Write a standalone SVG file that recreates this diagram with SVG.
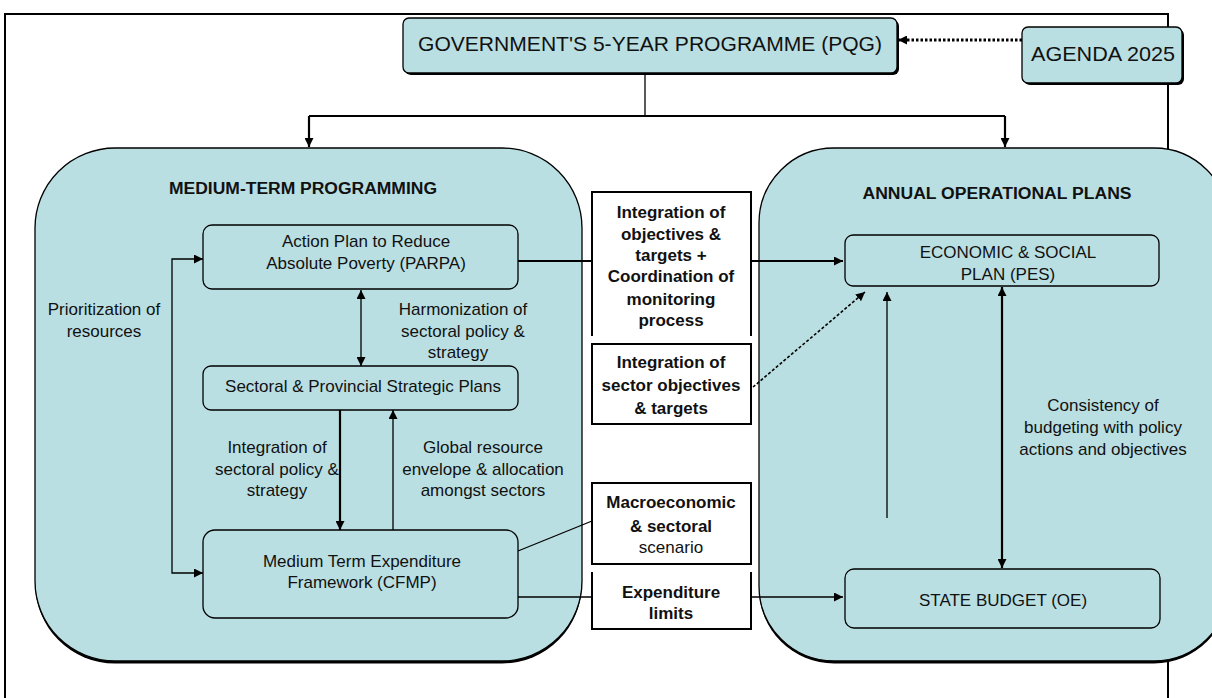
<svg xmlns="http://www.w3.org/2000/svg" width="1212" height="698" viewBox="0 0 1212 698">
<style>
.t{font-family:"Liberation Sans",Arial,sans-serif;fill:#111;text-anchor:middle}
.n{font-size:17px}
.b{font-weight:bold}
.h{font-size:16px;font-weight:bold}
.box{fill:#badfe2;stroke:#000;stroke-width:1.3}
.sh{fill:#000}
.mid{fill:#fff;stroke:none}
.edge{fill:none;stroke:#000;stroke-width:2}
.ln{fill:none;stroke:#000;stroke-width:1.3}
.thk{stroke-width:2.2}
.dot{stroke-dasharray:3 2;stroke-width:1.6}
.dotthk{stroke-width:3;stroke-dasharray:2.5 2}
</style>
<defs>
<marker id="ah" viewBox="0 0 10 10" refX="10" refY="5" markerWidth="9" markerHeight="9" markerUnits="userSpaceOnUse" orient="auto-start-reverse"><path d="M0,0 L10,5 L0,10 z" fill="#000"/></marker>
</defs>
<rect width="1212" height="698" fill="#fff"/>
<path d="M5,700 V14 H1168 V700" fill="none" stroke="#000" stroke-width="2"/>

<g id="medium-term">
<rect class="sh" x="35" y="150.5" width="547" height="513" rx="80"/>
<rect class="box" x="35" y="148" width="547" height="513" rx="80"/>
<text class="t h" x="303" y="194" textLength="268" lengthAdjust="spacingAndGlyphs">MEDIUM-TERM PROGRAMMING</text>
</g>
<g id="annual">
<rect class="sh" x="759" y="150.5" width="470" height="513" rx="75"/>
<rect class="box" x="759" y="148" width="470" height="513" rx="75"/>
<text class="t h" x="997" y="199" textLength="269" lengthAdjust="spacingAndGlyphs">ANNUAL OPERATIONAL PLANS</text>
</g>

<g id="connectors">
<path class="ln" d="M645,73 V116"/>
<path class="ln thk" d="M309,116 H1005"/>
<path class="ln thk" d="M309,116 V147" marker-end="url(#ah)"/>
<path class="ln thk" d="M1005,116 V147" marker-end="url(#ah)"/>
<path class="ln dotthk" d="M1022,40 H898" marker-end="url(#ah)"/>
<path class="ln" d="M361,290 V366" marker-start="url(#ah)" marker-end="url(#ah)"/>
<path class="ln thk" d="M340,410 V530" marker-end="url(#ah)"/>
<path class="ln" d="M393,530 V410" marker-end="url(#ah)"/>
<path class="ln" d="M203,259 H172 V573 H203" marker-start="url(#ah)" marker-end="url(#ah)"/>
<path class="ln thk" d="M518,261 H843" marker-end="url(#ah)"/>
<path class="ln dot" d="M753,387 L865,292" marker-end="url(#ah)"/>
<path class="ln" d="M518,551 L592,521"/>
<path class="ln" d="M518,597 H843" marker-end="url(#ah)"/>
<path class="ln" d="M887,518 V292" marker-end="url(#ah)"/>
<path class="ln thk" d="M1002,287 V568" marker-start="url(#ah)" marker-end="url(#ah)"/>
</g>

<g id="pqg">
<rect class="sh" x="405" y="20" width="494" height="55" rx="6"/>
<rect class="box" x="403" y="18" width="494" height="55" rx="6"/>
<text class="t" x="650" y="51" font-size="21" textLength="464" lengthAdjust="spacingAndGlyphs">GOVERNMENT'S 5-YEAR PROGRAMME (PQG)</text>
</g>
<g id="agenda">
<rect class="sh" x="1024" y="29" width="160" height="56" rx="6"/>
<rect class="box" x="1022" y="27" width="160" height="56" rx="6"/>
<text class="t" x="1103" y="61" font-size="21" textLength="144" lengthAdjust="spacingAndGlyphs">AGENDA 2025</text>
</g>

<g id="parpa">
<rect class="box" x="203" y="225" width="315" height="64" rx="9"/>
<text class="t n" x="366" y="247">Action Plan to Reduce</text>
<text class="t n" x="366" y="269">Absolute Poverty (PARPA)</text>
</g>
<g id="sectoral">
<rect class="box" x="203" y="366" width="315" height="44" rx="8"/>
<text class="t n" x="363" y="392">Sectoral &amp; Provincial Strategic Plans</text>
</g>
<g id="cfmp">
<rect class="box" x="203" y="530" width="315" height="88" rx="12"/>
<text class="t n" x="362" y="567">Medium Term Expenditure</text>
<text class="t n" x="362" y="588">Framework (CFMP)</text>
</g>
<g id="lbl-prioritization">
<text class="t n" x="104" y="315">Prioritization of</text>
<text class="t n" x="104" y="337">resources</text>
</g>
<g id="lbl-harmonization">
<text class="t n" x="463" y="315">Harmonization of</text>
<text class="t n" x="463" y="337">sectoral policy &amp;</text>
<text class="t n" x="458" y="358">strategy</text>
</g>
<g id="lbl-integration">
<text class="t n" x="277" y="453">Integration of</text>
<text class="t n" x="277" y="475">sectoral policy &amp;</text>
<text class="t n" x="277" y="496">strategy</text>
</g>
<g id="lbl-global">
<text class="t n" x="483" y="453">Global resource</text>
<text class="t n" x="483" y="475">envelope &amp; allocation</text>
<text class="t n" x="483" y="496">amongst sectors</text>
</g>

<g id="box-integration-objectives">
<rect class="mid" x="592" y="192" width="159" height="144"/>
<path class="edge" d="M592,336 V192 H751 V336"/>
<text class="t n b" x="671" y="218">Integration of</text>
<text class="t n b" x="671" y="240">objectives &amp;</text>
<text class="t n b" x="671" y="261">targets +</text>
<text class="t n b" x="671" y="282">Coordination of</text>
<text class="t n b" x="671" y="305">monitoring</text>
<text class="t n b" x="671" y="326">process</text>
</g>
<g id="box-sector-objectives">
<rect class="mid" x="592" y="344" width="159" height="80"/>
<rect class="edge" x="592" y="344" width="159" height="80"/>
<text class="t n b" x="671" y="368">Integration of</text>
<text class="t n b" x="671" y="391">sector objectives</text>
<text class="t n b" x="671" y="414">&amp; targets</text>
</g>
<g id="box-macro">
<rect class="mid" x="592" y="483" width="159" height="81"/>
<rect class="edge" x="592" y="483" width="159" height="81"/>
<text class="t n b" x="671" y="508">Macroeconomic</text>
<text class="t n b" x="671" y="532">&amp; sectoral</text>
<text class="t n" x="671" y="553">scenario</text>
</g>
<g id="box-limits">
<rect class="mid" x="592" y="572" width="159" height="57"/>
<path class="edge" d="M592,572 V629 H751 V572"/>
<text class="t n b" x="671" y="598">Expenditure</text>
<text class="t n b" x="671" y="619">limits</text>
</g>

<g id="pes">
<rect class="box" x="845" y="235" width="314" height="51" rx="8"/>
<text class="t n" x="1008" y="258">ECONOMIC &amp; SOCIAL</text>
<text class="t n" x="1008" y="280">PLAN (PES)</text>
</g>
<g id="oe">
<rect class="box" x="845" y="569" width="315" height="59" rx="9"/>
<text class="t n" x="1003" y="606">STATE BUDGET (OE)</text>
</g>
<g id="lbl-consistency">
<text class="t n" x="1103" y="411">Consistency of</text>
<text class="t n" x="1103" y="433">budgeting with policy</text>
<text class="t n" x="1103" y="455">actions and objectives</text>
</g>
</svg>
